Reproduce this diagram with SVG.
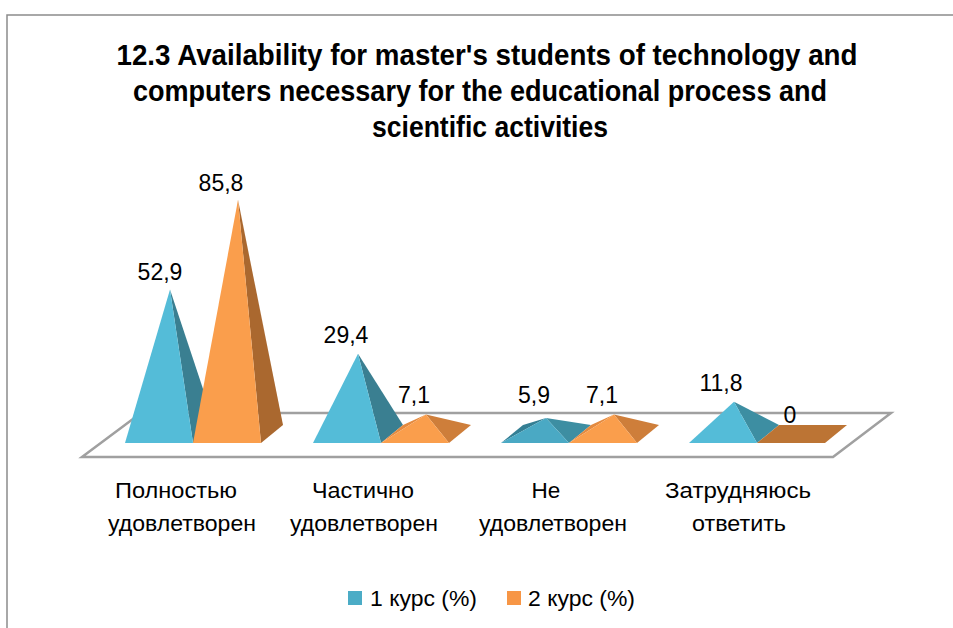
<svg xmlns="http://www.w3.org/2000/svg" width="953" height="628" viewBox="0 0 953 628">
<style>
.t{font-family:"Liberation Sans",Arial,sans-serif;font-weight:bold;font-size:30px;fill:#000;text-anchor:middle}
.lbl{font-family:"Liberation Sans",Arial,sans-serif;font-size:22.5px;fill:#000;text-anchor:middle}
.dl{font-family:"Liberation Sans",Arial,sans-serif;font-size:23px;fill:#000;text-anchor:middle}
.lg{font-family:"Liberation Sans",Arial,sans-serif;font-size:22px;fill:#000}
.bf{fill:#54BCD8}.br{fill:#3A7F91}.bl{fill:#3F95AD}
.of{fill:#FA9E4C}.or{fill:#AA682F}.ol{fill:#E48A3F}
</style>
<rect x="0" y="0" width="953" height="628" fill="#fff"/>
<rect x="7" y="15" width="1000" height="700" fill="#fff" stroke="#8C8C8C" stroke-width="1.5"/>
<g id="title">
<text class="t" x="487" y="65" textLength="741" lengthAdjust="spacingAndGlyphs">12.3 Availability for master's students of technology and</text>
<text class="t" x="480" y="101" textLength="694" lengthAdjust="spacingAndGlyphs">computers necessary for the educational process and</text>
<text class="t" x="490" y="137" textLength="236" lengthAdjust="spacingAndGlyphs">scientific activities</text>
</g>
<g id="floor">
<polygon points="82,457 141,413 891,413 833,457" fill="#fff" stroke="#A0A0A0" stroke-width="2.5"/>
</g>
<g id="series1-cat1">
<polygon class="br" points="193,443 215,425 170,289.6"/>
<polygon class="bf" points="125,443 193,443 170,289.6"/>
</g>
<g id="series2-cat1">
<polygon class="or" points="261,443 283,425 238,199.8"/>
<polygon class="of" points="193,443 261,443 238,199.8"/>
</g>
<g id="series1-cat2">
<polygon class="br" points="381,443 403,425 358,353.7"/>
<polygon class="bf" points="313,443 381,443 358,353.7"/>
</g>
<g id="series2-cat2">
<polygon class="ol" points="381,443 403,425 426,414.6"/>
<polygon class="or" points="449,443 471,425 426,414.6" style="fill:#CE7E3A"/>
<polygon class="of" points="381,443 449,443 426,414.6"/>
</g>
<g id="series1-cat3">
<polygon class="bl" points="501,443 523,425 546,417.9" style="fill:#347F94"/>
<polygon class="br" points="569,443 591,425 546,417.9" style="fill:#3D8EA2"/>
<polygon class="bf" points="501,443 569,443 546,417.9" style="fill:#4AA9C4"/>
</g>
<g id="series2-cat3">
<polygon class="ol" points="569,443 591,425 614,414.6"/>
<polygon class="or" points="637,443 659,425 614,414.6" style="fill:#CE7E3A"/>
<polygon class="of" points="569,443 637,443 614,414.6"/>
</g>
<g id="series1-cat4">
<polygon class="br" points="757,443 779,425 734,401.8" style="fill:#3D8EA2"/>
<polygon class="bf" points="689,443 757,443 734,401.8"/>
</g>
<g id="series2-cat4">
<polygon points="757,443 825,443 847,425 779,425" fill="#BC7434"/>
</g>
<g id="data-labels">
<text class="dl" x="160" y="280">52,9</text>
<text class="dl" x="221" y="191">85,8</text>
<text class="dl" x="346" y="343">29,4</text>
<text class="dl" x="414" y="403">7,1</text>
<text class="dl" x="534" y="403">5,9</text>
<text class="dl" x="602" y="403">7,1</text>
<text class="dl" x="721" y="391">11,8</text>
<text class="dl" x="790" y="423">0</text>
</g>
<g id="axis-labels">
<text class="lbl" x="176" y="498" textLength="122" lengthAdjust="spacingAndGlyphs">Полностью</text>
<text class="lbl" x="182" y="531" textLength="148" lengthAdjust="spacingAndGlyphs">удовлетворен</text>
<text class="lbl" x="363" y="498" textLength="102" lengthAdjust="spacingAndGlyphs">Частично</text>
<text class="lbl" x="364" y="531" textLength="148" lengthAdjust="spacingAndGlyphs">удовлетворен</text>
<text class="lbl" x="546" y="498">Не</text>
<text class="lbl" x="553" y="531" textLength="148" lengthAdjust="spacingAndGlyphs">удовлетворен</text>
<text class="lbl" x="738" y="498" textLength="146" lengthAdjust="spacingAndGlyphs">Затрудняюсь</text>
<text class="lbl" x="739" y="531" textLength="94" lengthAdjust="spacingAndGlyphs">ответить</text>
</g>
<g id="legend">
<rect x="348" y="591" width="14" height="14" fill="#4BACC6"/>
<text class="lg" x="370" y="606" textLength="107" lengthAdjust="spacingAndGlyphs">1 курс (%)</text>
<rect x="507" y="591" width="14" height="14" fill="#F79646"/>
<text class="lg" x="528" y="606" textLength="107" lengthAdjust="spacingAndGlyphs">2 курс (%)</text>
</g>
</svg>
